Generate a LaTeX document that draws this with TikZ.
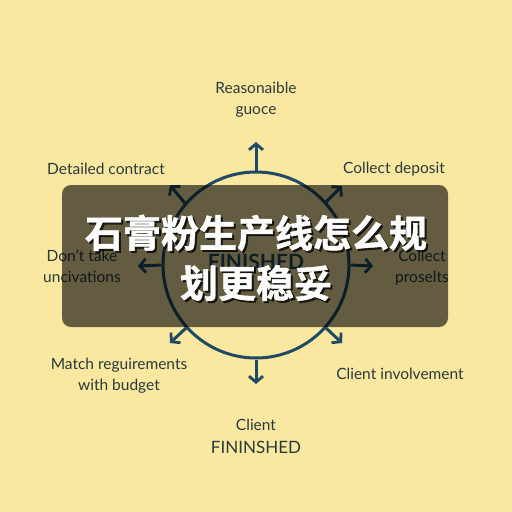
\documentclass[tikz,border=0pt]{standalone}
\usepackage{fontspec}
\setmainfont{Lato}
\newfontfamily\cjk[FakeBold=1.2]{Noto Sans CJK SC Bold}
\usetikzlibrary{arrows.meta}
\definecolor{bgy}{RGB}{251,232,160}
\definecolor{ink}{RGB}{40,58,62}
\definecolor{arr}{RGB}{30,75,99}
\tikzset{
  lbl/.style={text=ink, font=\fontsize{15.5}{21}\selectfont, align=center, inner sep=0pt},
  ray/.style={draw=arr, line width=3pt, -{Straight Barb[length=6pt,width=14pt,line width=2.8pt]}},
  cjkt/.style={text=white, font=\cjk\fontsize{38}{50}\selectfont, inner sep=0pt},
  cjks/.style={text=black, opacity=0.75, font=\cjk\fontsize{38}{50}\selectfont, inner sep=0pt},
}
\begin{document}
\begin{tikzpicture}[x=1pt,y=-1pt]
\fill[bgy] (0,0) rectangle (512,512);
\useasboundingbox (0,0) rectangle (512,512);
% circle
\node[circle, draw=arr, line width=3pt, minimum size=186pt, inner sep=0pt] (c) at (256,265) {};
\node[text=arr, font=\bfseries\fontsize{21}{22}\selectfont, inner sep=0pt] (fin) at (256,262) {FINISHED};
% arrow tips
\coordinate (tT) at (256,142);
\coordinate (tB) at (256,384);
\coordinate (tL) at (138,266);
\coordinate (tR) at (373,266);
\coordinate (tTL) at (170,185);
\coordinate (tTR) at (342,186);
\coordinate (tBL) at (170,343);
\coordinate (tBR) at (342,343);
\draw[ray] (c.90) -- (tT);
\draw[ray] (c.270) -- (tB);
\draw[ray] (c.180) -- (tL);
\draw[ray] (c.0) -- (tR);
\draw[ray] (c.139) -- (tTL);
\draw[ray] (c.42) -- (tTR);
\draw[ray] (c.222) -- (tBL);
\draw[ray] (c.318) -- (tBR);
% labels
\node[lbl] (l1) at (256,100) {Reasonaible\\guoce};
\node[lbl] (l2) at (106,169) {Detailed contract};
\node[lbl] (l3) at (394,169) {Collect deposit};
\node[lbl] (l4) at (82,266) {Don't take\\uncivations};
\node[lbl] (l5) at (422,268) {Collect\\proselts};
\node[lbl] (l6) at (119,376) {Match reguirements\\with budget};
\node[lbl] (l7) at (400,374) {Client involvement};
\node[lbl] (l8) at (256,425) {Client};
\node[text=ink, font=\fontsize{17}{19}\selectfont, inner sep=0pt] (l9) at (256,447) {FININSHED};
% overlay
\fill[black, opacity=0.6, rounded corners=9pt] (62,185) rectangle (448,327);
\node[cjks] (s1) at (258,235) {石膏粉生产线怎么规};
\node[cjks] (s2) at (258,285) {划更稳妥};
\node[cjkt] (h1) at (256,233) {石膏粉生产线怎么规};
\node[cjkt] (h2) at (256,283) {划更稳妥};
\end{tikzpicture}
\end{document}
